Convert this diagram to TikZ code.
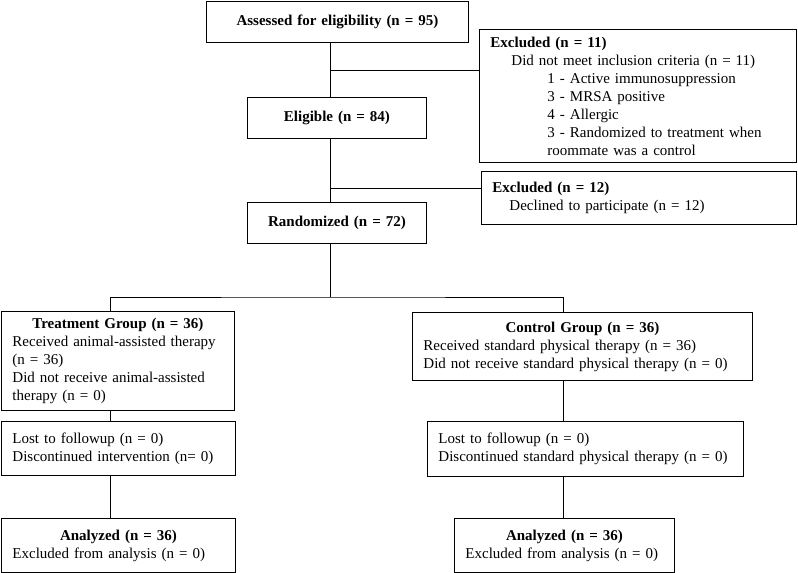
\documentclass[tikz,border=0pt]{standalone}
\usepackage{fontspec}
\setmainfont{Liberation Serif}
\usepackage{xcolor}
\usepackage{tikz}
\newcommand{\boxhead}[1]{\makebox[\linewidth][c]{\textbf{#1}}}

\begin{document}
\begin{tikzpicture}[x=1pt, y=-1pt,
	flowbox/.style={draw, line width=0.9pt, anchor=north west, inner xsep=11pt, inner ysep=0pt, align=left, font=\fontsize{15}{18}\selectfont},
	headbox/.style={flowbox, align=center, font=\fontsize{15}{18}\selectfont\bfseries},
	link/.style={line width=0.9pt}]
	\useasboundingbox (0,0) rectangle (798,573);
	\node[headbox, text width=240pt, minimum height=41pt] (assess) at (206,1) {Assessed for eligibility (n = 95)};
	\node[headbox, text width=157pt, minimum height=41pt] (elig) at (247,97) {Eligible (n = 84)};
	\node[headbox, text width=157pt, minimum height=41pt] (rand) at (247,202) {Randomized (n = 72)};
	\node[flowbox, text width=295pt, minimum height=133pt] (excl1) at (479,29) {\textbf{Excluded (n = 11)}\\
		\hspace*{21pt}Did not meet inclusion criteria (n = 11)\\
		\hspace*{57pt}1 - Active immunosuppression\\
		\hspace*{57pt}3 - MRSA positive\\
		\hspace*{57pt}4 - Allergic\\
		\hspace*{57pt}3 - Randomized to treatment when\\
		\hspace*{57pt}roommate was a control};
	\node[flowbox, text width=293pt, minimum height=53pt] (excl2) at (481,171) {\textbf{Excluded (n = 12)}\\
		\hspace*{17pt}Declined to participate (n = 12)};
	\node[flowbox, text width=211pt, minimum height=99pt] (treat) at (1,311) {\boxhead{Treatment Group (n = 36)}\\
		Received animal-assisted therapy\\
		(n = 36)\\
		Did not receive animal-assisted\\
		therapy (n = 0)};
	\node[flowbox, text width=318pt, minimum height=68pt] (ctrl) at (412,312) {\boxhead{Control Group (n = 36)}\\
		Received standard physical therapy (n = 36)\\
		Did not receive standard physical therapy (n = 0)};
	\node[flowbox, text width=212pt, minimum height=54pt] (lostT) at (1,421) {Lost to followup (n = 0)\\
		Discontinued intervention (n= 0)};
	\node[flowbox, text width=294pt, minimum height=55pt] (lostC) at (427,421) {Lost to followup (n = 0)\\
		Discontinued standard physical therapy (n = 0)};
	\node[flowbox, text width=212pt, minimum height=54pt] (anaT) at (1,518) {\boxhead{Analyzed (n = 36)}\\
		Excluded from analysis (n = 0)};
	\node[flowbox, text width=198pt, minimum height=54pt] (anaC) at (454,518) {\boxhead{Analyzed (n = 36)}\\
		Excluded from analysis (n = 0)};
	\coordinate (spine) at (330,0);
	\coordinate (left) at (110,0);
	\coordinate (right) at (563,0);
	\coordinate (cut1) at (330,70);
	\coordinate (cut2) at (330,188);
	\coordinate (split) at (330,297);
	\draw[link] (assess.south -| spine) -- (elig.north -| spine);
	\draw[link] (cut1) -- (cut1 -| excl1.west);
	\draw[link] (elig.south -| spine) -- (rand.north -| spine);
	\draw[link] (cut2) -- (cut2 -| excl2.west);
	\draw[link] (rand.south -| spine) -- (split);
	\draw[link] (treat.north -| left) |- (split) -| (ctrl.north -| right);
	\draw[link] (treat.south -| left) -- (lostT.north -| left);
	\draw[link] (lostT.south -| left) -- (anaT.north -| left);
	\draw[link] (ctrl.south -| right) -- (lostC.north -| right);
	\draw[link] (lostC.south -| right) -- (anaC.north -| right);
\end{tikzpicture}
\end{document}
